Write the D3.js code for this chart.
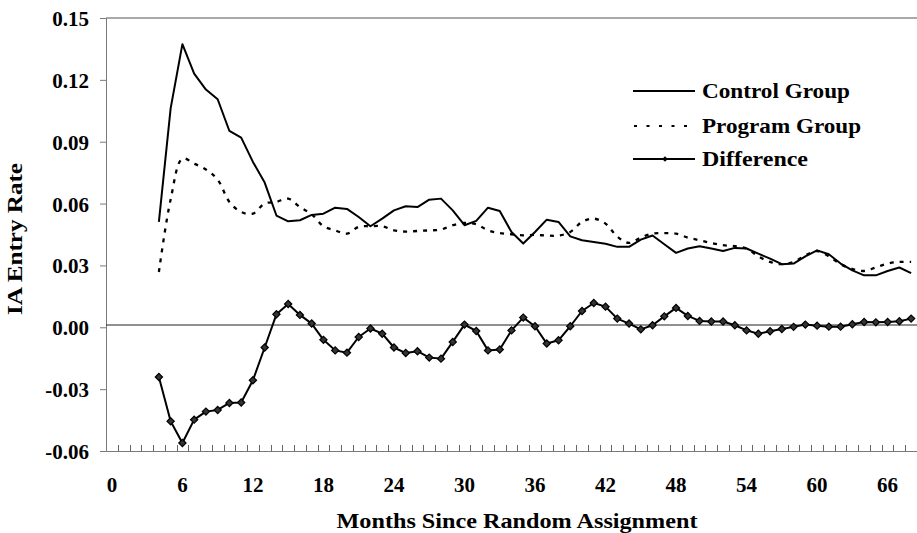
<!DOCTYPE html>
<html>
<head>
<meta charset="utf-8">
<script src="https://cdn.jsdelivr.net/npm/d3@7"></script>
<style>
  html, body { margin: 0; padding: 0; background: #fff; }
  svg { display: block; }
</style>
</head>
<body>
<svg id="chart" width="917" height="533"></svg>
<script>
// ---------------- data ----------------
const months = d3.range(0, 69);          // category axis 0..68
const dataMonths = d3.range(4, 69);      // months with data
const controlGroup = [
  0.0511, 0.1062, 0.1373, 0.1230, 0.1153, 0.1106, 0.0952, 0.0920, 0.0802, 0.0702,
  0.0542, 0.0514, 0.0519, 0.0545, 0.0551, 0.0580, 0.0574, 0.0535, 0.0490, 0.0527,
  0.0567, 0.0587, 0.0583, 0.0619, 0.0624, 0.0567, 0.0495, 0.0516, 0.0580, 0.0564,
  0.0462, 0.0406, 0.0462, 0.0522, 0.0511, 0.0441, 0.0422, 0.0414, 0.0405, 0.0390,
  0.0390, 0.0425, 0.0445, 0.0403, 0.0361, 0.0382, 0.0393, 0.0382, 0.0370, 0.0385,
  0.0382, 0.0357, 0.0333, 0.0306, 0.0309, 0.0344, 0.0373, 0.0354, 0.0309, 0.0276,
  0.0252, 0.0252, 0.0273, 0.0290, 0.0263
];
const programGroup = [
  0.0268, 0.0620, 0.0818, 0.0794, 0.0765, 0.0716, 0.0608, 0.0559, 0.0551, 0.0600,
  0.0608, 0.0624, 0.0583, 0.0548, 0.0490, 0.0470, 0.0454, 0.0487, 0.0490, 0.0490,
  0.0470, 0.0464, 0.0467, 0.0470, 0.0474, 0.0495, 0.0506, 0.0500, 0.0470, 0.0457,
  0.0451, 0.0446, 0.0448, 0.0445, 0.0445, 0.0462, 0.0511, 0.0527, 0.0503, 0.0440,
  0.0409, 0.0435, 0.0454, 0.0457, 0.0454, 0.0435, 0.0422, 0.0409, 0.0398, 0.0393,
  0.0382, 0.0344, 0.0317, 0.0306, 0.0317, 0.0349, 0.0370, 0.0344, 0.0306, 0.0283,
  0.0273, 0.0290, 0.0309, 0.0317, 0.0317
];
const difference = [
  -0.0241, -0.0456, -0.0561, -0.0448, -0.0409, -0.0401, -0.0367, -0.0365, -0.0257, -0.0098,
   0.0063,  0.0113,  0.0060,  0.0018, -0.0061, -0.0112, -0.0123, -0.0047, -0.0006, -0.0031,
  -0.0098, -0.0125, -0.0116, -0.0147, -0.0152, -0.0071,  0.0013, -0.0018, -0.0112, -0.0108,
  -0.0015,  0.0047,  0.0005, -0.0079, -0.0063,  0.0005,  0.0079,  0.0118,  0.0100,  0.0042,
   0.0018, -0.0010,  0.0010,  0.0053,  0.0094,  0.0055,  0.0031,  0.0028,  0.0028,  0.0010,
  -0.0015, -0.0031, -0.0019, -0.0008,  0.0002,  0.0013,  0.0008,  0.0003,  0.0003,  0.0015,
   0.0026,  0.0024,  0.0026,  0.0029,  0.0042
];
const referenceLevel = 0.0011;
const yTicks = [-0.06, -0.03, 0.00, 0.03, 0.06, 0.09, 0.12, 0.15];
const xTickLabels = [0, 6, 12, 18, 24, 30, 36, 42, 48, 54, 60, 66];
const seriesNames = ["Control Group", "Program Group", "Difference"];
const yTitle = "IA Entry Rate";
const xTitle = "Months Since Random Assignment";

// ---------------- layout ----------------
const FONT = "'Liberation Serif', serif";
const svg = d3.select("#chart");
const plotLeft = 106, plotRight = 917, plotTop = 18, plotBottom = 451;

const x = d3.scaleBand().domain(months).range([plotLeft, plotRight]).padding(0);
const xc = m => x(m) + x.bandwidth() / 2;
const y = d3.scaleLinear().domain([-0.06, 0.15]).range([plotBottom, plotTop]);

const axisColor = "#7a7a7a";

function styleText(sel, size) {
  sel.attr("font-family", null)
     .style("font-family", FONT)
     .style("font-weight", "bold")
     .style("font-size", size + "px")
     .attr("fill", "#000");
}

// top border
svg.append("line")
  .attr("x1", plotLeft).attr("x2", plotRight)
  .attr("y1", y(0.15)).attr("y2", y(0.15))
  .attr("stroke", "#555").attr("stroke-width", 1);

// y axis
const yAxis = svg.append("g")
  .attr("transform", `translate(${plotLeft},0)`)
  .call(d3.axisLeft(y).tickValues(yTicks).tickSize(6).tickPadding(11)
        .tickFormat(d => d.toFixed(2)));
yAxis.attr("font-family", FONT).attr("font-size", null);
yAxis.select(".domain").attr("stroke", axisColor);
yAxis.selectAll(".tick line").attr("stroke", axisColor);
yAxis.selectAll(".tick text").call(styleText, 21).attr("dy", "0.36em");

// x axis
const xAxis = svg.append("g")
  .attr("transform", `translate(0,${plotBottom})`)
  .call(d3.axisBottom(x).tickValues(xTickLabels).tickSize(0).tickPadding(26));
xAxis.attr("font-family", FONT).attr("font-size", null);
xAxis.select(".domain").attr("stroke", axisColor);
xAxis.selectAll(".tick text").call(styleText, 21).attr("dy", "0.71em");

// x minor tick marks at category boundaries (inside)
const boundaries = months.map(m => x(m)).concat([x.range()[1]]);
svg.append("g").selectAll("line")
  .data(boundaries.slice(1))
  .join("line")
  .attr("x1", d => Math.round(d) + 0.5).attr("x2", d => Math.round(d) + 0.5)
  .attr("y1", plotBottom).attr("y2", plotBottom - 6)
  .attr("stroke", "#666").attr("stroke-width", 1);

// reference line
svg.append("line")
  .attr("x1", plotLeft).attr("x2", plotRight)
  .attr("y1", y(referenceLevel)).attr("y2", y(referenceLevel))
  .attr("stroke", "#222").attr("stroke-width", 1.2);

// series
const toPts = vals => vals.map((v, i) => [xc(dataMonths[i]), y(v)]);

svg.append("path")
  .attr("d", d3.line().curve(d3.curveCatmullRom.alpha(0.5))(toPts(programGroup)))
  .attr("fill", "none").attr("stroke", "#000").attr("stroke-width", 2.3)
  .attr("stroke-dasharray", "4,6");

svg.append("path")
  .attr("d", d3.line()(toPts(controlGroup)))
  .attr("fill", "none").attr("stroke", "#000").attr("stroke-width", 2)
  .attr("stroke-linejoin", "round");

svg.append("path")
  .attr("d", d3.line()(toPts(difference)))
  .attr("fill", "none").attr("stroke", "#000").attr("stroke-width", 2)
  .attr("stroke-linejoin", "round");

const diamond = d3.symbol().type(d3.symbolSquare).size(26);
svg.append("g").selectAll("path")
  .data(toPts(difference))
  .join("path")
  .attr("d", diamond)
  .attr("transform", d => `translate(${d[0]},${d[1]}) rotate(45)`)
  .attr("fill", "#333").attr("stroke", "#000").attr("stroke-width", 1.2);

// axis titles
svg.append("text")
  .attr("x", 517).attr("y", 528)
  .attr("text-anchor", "middle")
  .call(styleText, 21)
  .attr("textLength", 361).attr("lengthAdjust", "spacingAndGlyphs")
  .text(xTitle);

svg.append("text")
  .attr("transform", "translate(22,239) rotate(-90)")
  .attr("text-anchor", "middle")
  .call(styleText, 21)
  .attr("textLength", 152).attr("lengthAdjust", "spacingAndGlyphs")
  .text(yTitle);

// legend
const legendY = [91, 126, 159];
const legendWidths = [148, 159, 106];
const lg = svg.append("g");
lg.append("line").attr("x1", 633).attr("x2", 695).attr("y1", legendY[0]).attr("y2", legendY[0])
  .attr("stroke", "#000").attr("stroke-width", 2);
lg.append("line").attr("x1", 634).attr("x2", 695).attr("y1", legendY[1]).attr("y2", legendY[1])
  .attr("stroke", "#000").attr("stroke-width", 2).attr("stroke-dasharray", "3,9.5");
lg.append("line").attr("x1", 633).attr("x2", 695).attr("y1", legendY[2]).attr("y2", legendY[2])
  .attr("stroke", "#000").attr("stroke-width", 2);
lg.append("path").attr("d", d3.symbol().type(d3.symbolSquare).size(16))
  .attr("transform", `translate(665,${legendY[2]}) rotate(45)`)
  .attr("fill", "#000");
seriesNames.forEach((name, i) => {
  lg.append("text")
    .attr("x", 702).attr("y", legendY[i]).attr("dy", "0.33em")
    .call(styleText, 22)
    .attr("textLength", legendWidths[i]).attr("lengthAdjust", "spacingAndGlyphs")
    .text(name);
});
</script>
</body>
</html>
